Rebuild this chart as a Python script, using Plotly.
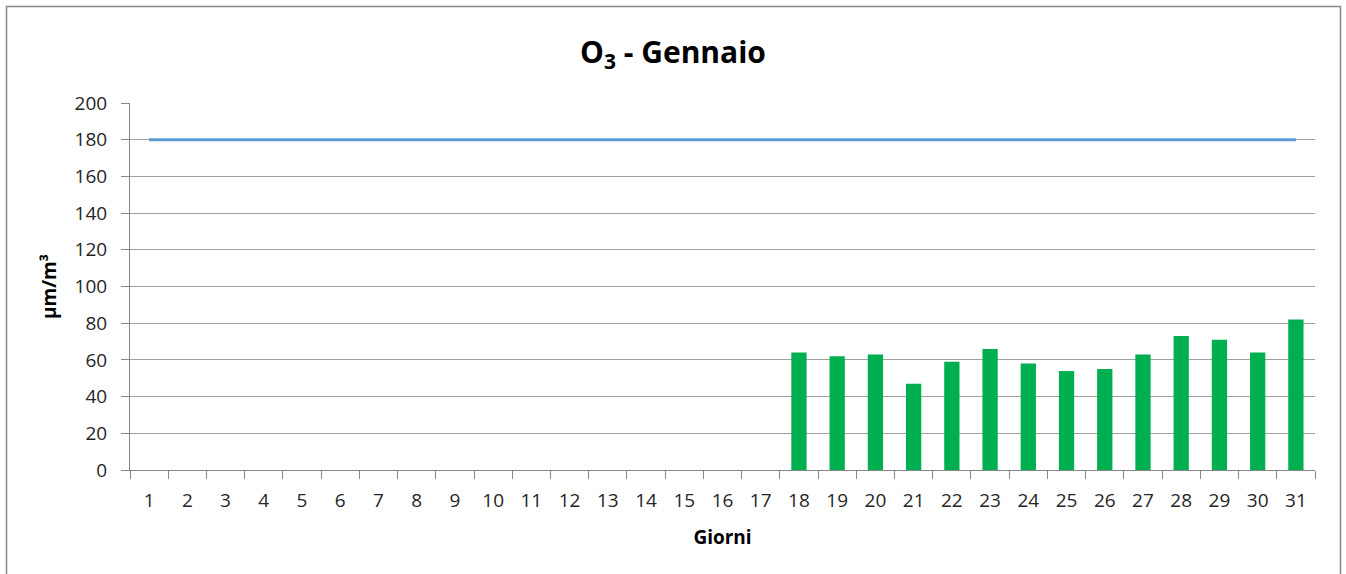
import plotly.graph_objects as go

days = [str(d) for d in range(1, 32)]
o3_values = [None] * 17 + [64, 62, 63, 47, 59, 66, 58, 54, 55, 63, 73, 71, 64, 82]
limit_values = [180] * 31

title_text = "O<sub>3</sub> - Gennaio"
y_title = "µm/m³"
x_title = "Giorni"

FONT = "Open Sans"
AXIS_COLOR = "#868686"
GRID_COLOR = "#A0A0A0"

fig = go.Figure()
fig.add_trace(go.Bar(
    x=days, y=o3_values, marker=dict(color="#00B050", line=dict(width=0)),
    showlegend=False, hoverinfo="x+y"))
fig.add_trace(go.Scatter(
    x=days, y=limit_values, mode="lines",
    line=dict(color="#5B9BD5", width=3), showlegend=False))

L, R, T, B = 130, 31, 103, 104
W, H = 1346, 574
pw, ph = W - L - R, H - T - B

def px_x(p):
    return (p - L) / pw

def px_y(p):
    return (H - B - p) / ph

fig.update_layout(
    width=W, height=H, autosize=False,
    margin=dict(l=L, r=R, t=T, b=B),
    paper_bgcolor="white", plot_bgcolor="white",
    bargap=0.6,
    title=dict(text=title_text, x=0.5, xref="container", xanchor="center",
               y=1 - 52 / H, yanchor="middle",
               font=dict(family=FONT, size=30, color="black", weight="bold")),
    font=dict(family=FONT, size=19, color="#262626"),
    xaxis=dict(type="category", tickson="boundaries", ticks="outside", ticklen=8,
               tickcolor=AXIS_COLOR, showline=True, linecolor=AXIS_COLOR, linewidth=1,
               showgrid=False, ticklabelstandoff=13,
               title=dict(text=x_title, standoff=18,
                          font=dict(family=FONT, size=19, color="black", weight="bold"))),
    yaxis=dict(range=[0, 200], dtick=20, ticks="outside", ticklen=8,
               tickcolor=AXIS_COLOR, showline=True, linecolor=AXIS_COLOR, linewidth=1,
               showgrid=True, gridcolor=GRID_COLOR, gridwidth=1, zeroline=False,
               ticklabelstandoff=10,
               title=dict(text=y_title, standoff=12,
                          font=dict(family=FONT, size=19, color="black", weight="bold"))),
    shapes=[dict(type="rect", xref="paper", yref="paper",
                 x0=px_x(6.5), x1=px_x(1340.5), y0=px_y(6.5), y1=px_y(590),
                 line=dict(color="#898989", width=1.5), layer="below")],
)

fig.write_html("out.html", config={"displayModeBar": False},
               post_script="document.body.style.margin='0';")
